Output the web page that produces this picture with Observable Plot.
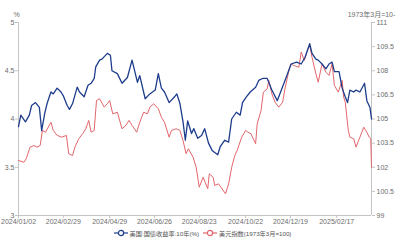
<!DOCTYPE html>
<html><head><meta charset="utf-8">
<script src="https://cdn.jsdelivr.net/npm/d3@7"></script>
<script src="https://cdn.jsdelivr.net/npm/@observablehq/plot@0.6"></script>
<style>
body{margin:0;background:#fff;font-family:"Liberation Sans",Arial,"Noto Sans CJK SC",sans-serif;}
#chart svg{display:block}
#legend{display:flex;justify-content:center;align-items:center;gap:4px;font-size:6.2px;color:#555;height:14px;width:401px;padding-left:4px;box-sizing:border-box;font-family:"Liberation Sans","Noto Sans CJK SC",sans-serif}
.item{display:flex;align-items:center;gap:2px;white-space:nowrap}
</style></head><body><div id="chart"></div><div id="legend"></div>
<script>
const yieldDates = ["2024-01-02","2024-01-05","2024-01-11","2024-01-16","2024-01-19","2024-01-24","2024-01-29","2024-02-01","2024-02-05","2024-02-08","2024-02-13","2024-02-16","2024-02-21","2024-02-26","2024-02-29","2024-03-05","2024-03-08","2024-03-12","2024-03-18","2024-03-21","2024-03-27","2024-04-01","2024-04-05","2024-04-09","2024-04-11","2024-04-16","2024-04-19","2024-04-26","2024-04-30","2024-05-02","2024-05-09","2024-05-15","2024-05-22","2024-05-28","2024-06-04","2024-06-07","2024-06-14","2024-06-20","2024-06-27","2024-07-01","2024-07-05","2024-07-09","2024-07-15","2024-07-22","2024-07-25","2024-07-29","2024-08-02","2024-08-05","2024-08-08","2024-08-13","2024-08-16","2024-08-21","2024-08-26","2024-08-30","2024-09-04","2024-09-09","2024-09-16","2024-09-19","2024-09-25","2024-09-30","2024-10-04","2024-10-10","2024-10-15","2024-10-18","2024-10-23","2024-10-28","2024-11-04","2024-11-08","2024-11-13","2024-11-19","2024-11-25","2024-12-02","2024-12-12","2024-12-20","2024-12-27","2025-01-02","2025-01-07","2025-01-13","2025-01-16","2025-01-21","2025-01-24","2025-01-29","2025-02-03","2025-02-07","2025-02-11","2025-02-14","2025-02-20","2025-02-24","2025-02-28","2025-03-03","2025-03-06","2025-03-11","2025-03-14","2025-03-19","2025-03-25","2025-03-28","2025-04-01","2025-04-03"];
const yieldValues = [3.92,4.04,3.97,4.04,4.14,4.17,4.12,3.88,4.06,4.16,4.28,4.26,4.32,4.28,4.24,4.14,4.10,4.16,4.33,4.28,4.23,4.35,4.37,4.42,4.54,4.61,4.62,4.68,4.66,4.50,4.47,4.37,4.43,4.61,4.38,4.45,4.21,4.26,4.30,4.47,4.32,4.28,4.17,4.23,4.26,4.16,3.97,3.78,3.98,3.85,3.90,3.80,3.83,3.90,3.75,3.67,3.63,3.71,3.78,3.76,4.00,4.07,4.04,4.17,4.23,4.28,4.33,4.40,4.42,4.42,4.30,4.19,4.40,4.57,4.59,4.57,4.64,4.78,4.68,4.62,4.61,4.57,4.52,4.57,4.59,4.49,4.49,4.32,4.23,4.17,4.30,4.28,4.30,4.28,4.37,4.19,4.12,4.00];
const dxyDates = ["2024-01-02","2024-01-09","2024-01-12","2024-01-17","2024-01-22","2024-01-26","2024-01-30","2024-02-02","2024-02-06","2024-02-13","2024-02-16","2024-02-21","2024-02-27","2024-03-04","2024-03-07","2024-03-12","2024-03-15","2024-03-20","2024-03-25","2024-03-29","2024-04-02","2024-04-05","2024-04-09","2024-04-12","2024-04-16","2024-04-22","2024-04-26","2024-04-29","2024-05-03","2024-05-09","2024-05-15","2024-05-20","2024-05-24","2024-05-28","2024-06-03","2024-06-07","2024-06-12","2024-06-17","2024-06-20","2024-06-25","2024-07-01","2024-07-05","2024-07-09","2024-07-15","2024-07-18","2024-07-24","2024-07-29","2024-08-02","2024-08-06","2024-08-09","2024-08-15","2024-08-19","2024-08-23","2024-08-28","2024-09-03","2024-09-05","2024-09-10","2024-09-12","2024-09-17","2024-09-20","2024-09-26","2024-09-30","2024-10-04","2024-10-08","2024-10-11","2024-10-17","2024-10-22","2024-10-25","2024-10-29","2024-11-04","2024-11-06","2024-11-11","2024-11-14","2024-11-19","2024-11-21","2024-11-25","2024-11-29","2024-12-04","2024-12-09","2024-12-12","2024-12-18","2024-12-20","2024-12-23","2024-12-30","2025-01-02","2025-01-06","2025-01-10","2025-01-13","2025-01-16","2025-01-21","2025-01-24","2025-01-29","2025-02-03","2025-02-07","2025-02-11","2025-02-14","2025-02-19","2025-02-24","2025-02-26","2025-02-28","2025-03-04","2025-03-06","2025-03-11","2025-03-14","2025-03-19","2025-03-24","2025-03-28","2025-03-31","2025-04-02","2025-04-03"];
const dxyValues = [102.42,102.31,102.53,103.25,103.35,103.25,103.35,104.29,104.18,104.80,104.29,103.98,103.87,103.98,102.84,102.73,103.25,103.77,104.08,104.39,104.91,104.18,104.29,106.15,106.26,105.74,105.95,106.15,105.32,105.42,104.39,104.60,104.91,104.60,104.18,104.80,105.42,105.32,105.73,105.95,105.64,105.11,104.80,103.87,104.29,104.39,104.29,103.66,102.84,103.15,102.63,102.00,100.76,101.38,100.66,101.59,101.38,100.87,100.97,100.76,100.35,100.97,102.00,102.73,103.04,103.87,104.29,104.18,104.08,103.46,104.70,105.53,106.67,106.88,107.40,106.57,106.05,105.74,106.05,106.88,108.22,108.43,108.33,108.22,109.16,108.64,109.26,109.57,108.84,107.81,107.29,108.43,107.91,107.71,108.43,107.08,106.67,107.40,106.36,106.05,104.29,103.87,103.77,103.25,103.87,104.49,104.18,103.87,103.80,102.00];
const xTickDates = ["2024-01-02","2024-02-29","2024-04-29","2024-06-26","2024-08-23","2024-10-22","2024-12-19","2025-02-17"];
const leftTicks = [3,3.5,4,4.5,5];
const rightTicks = [99,100.5,102,103.5,105,106.5,108,109.5,111];
const seriesNames = ["美国:国债收益率:10年(%)","美元指数(1973年3月=100)"];
const seriesColors = ["#1d3c8c","#e2666c"];
const leftUnit = "%";
const rightUnit = "1973年3月=10-";

const parse = d3.utcParse("%Y-%m-%d");
const toLeft = v => 3 + (v - 99) / 6;
const fromLeft = v => Math.round((99 + (v - 3) * 6) * 10) / 10;
const yieldData = yieldDates.map((d, i) => ({date: parse(d), value: yieldValues[i]}));
const dxyData = dxyDates.map((d, i) => ({date: parse(d), value: toLeft(dxyValues[i])}));
const fmt = d3.utcFormat("%Y/%m/%d");
const x0 = parse("2024-01-02"), x1 = parse("2025-04-03");
const axisColor = "#c4c4c4";
const textColor = "#6e6e6e";

const chart = Plot.plot({
  width: 401, height: 226,
  marginLeft: 18, marginRight: 30, marginTop: 22, marginBottom: 11,
  style: {fontSize: "7px", fontFamily: "'Liberation Sans', Arial, 'Noto Sans CJK SC', sans-serif", color: textColor, background: "#fff", overflow: "visible"},
  x: {type: "utc", domain: [x0, x1]},
  y: {domain: [3, 5]},
  marks: [
    Plot.ruleY([3], {stroke: axisColor}),
    Plot.ruleX([x0, x1], {stroke: axisColor}),
    Plot.axisX({ticks: xTickDates.map(parse), tickFormat: fmt, tickSize: 3, tickPadding: 1, stroke: axisColor, fill: textColor, label: null}),
    Plot.axisY({anchor: "left", ticks: leftTicks, tickFormat: d => String(d), tickSize: 3, tickPadding: 1, stroke: axisColor, fill: textColor, label: null}),
    Plot.axisY({anchor: "right", ticks: rightTicks.map(toLeft), tickFormat: fromLeft, tickSize: 3, tickPadding: 2, stroke: axisColor, fill: textColor, label: null}),
    Plot.line(dxyData, {x: "date", y: "value", stroke: seriesColors[1], strokeWidth: 1}),
    Plot.line(yieldData, {x: "date", y: "value", stroke: seriesColors[0], strokeWidth: 1.3}),
    Plot.text([leftUnit], {frameAnchor: "top-left", dy: -10, dx: -2, text: d => d, fill: textColor, textAnchor: "middle"}),
    Plot.text([rightUnit], {frameAnchor: "top-right", dy: -10, dx: 0, text: d => d, fill: textColor, textAnchor: "middle"})
  ]
});
document.getElementById("chart").append(chart);

const legend = document.getElementById("legend");
seriesNames.forEach((name, i) => {
  const item = document.createElement("div");
  item.className = "item";
  item.innerHTML = `<svg width="14" height="8"><line x1="0" y1="4" x2="14" y2="4" stroke="${seriesColors[i]}" stroke-width="1.2"/><circle cx="7" cy="4" r="2.6" fill="#fff" stroke="${seriesColors[i]}" stroke-width="1.2"/></svg><span>${name}</span>`;
  legend.append(item);
});
</script></body></html>
